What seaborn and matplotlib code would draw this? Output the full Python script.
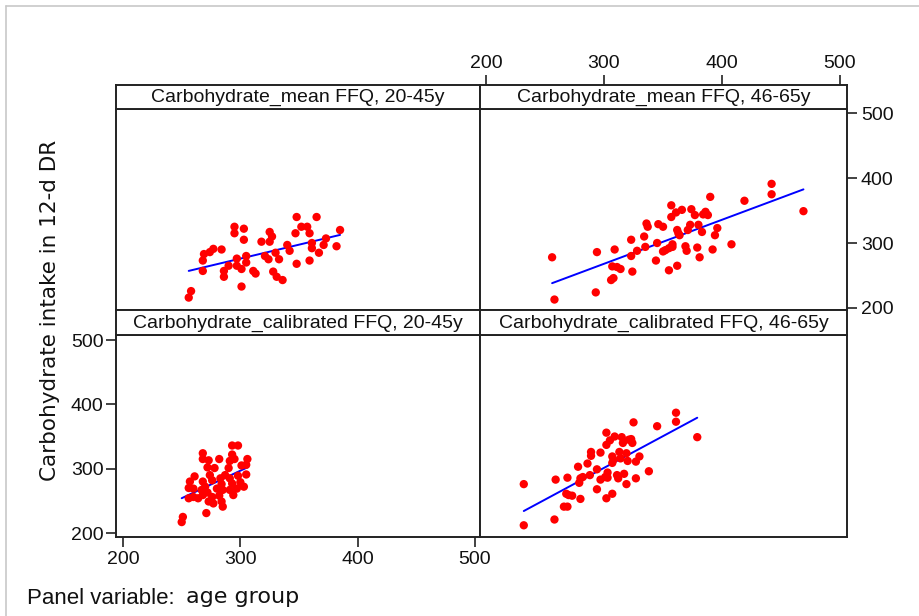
import matplotlib
matplotlib.use("Agg")
import matplotlib.pyplot as plt
import seaborn as sns
import pandas as pd
from matplotlib.lines import Line2D

# ---------------- data ----------------
tl_x = [256, 258, 268, 268, 269, 274, 277, 284, 286, 286, 290, 295, 295, 303, 303, 297, 297,
        301, 301, 305, 305, 311, 313, 318, 321, 324, 325, 325, 327, 328, 330, 331, 333, 336,
        340, 342, 348, 347, 348, 352, 357, 359, 359, 361, 361, 365, 367, 371, 373, 382, 385]
tl_y = [216, 226, 257, 273, 283, 286, 291, 290, 257, 248, 265, 325, 315, 322, 305, 276, 265,
        260, 233, 280, 270, 257, 253, 302, 280, 275, 317, 302, 310, 256, 285, 248, 275, 243,
        297, 288, 340, 315, 268, 325, 325, 315, 273, 300, 292, 340, 285, 297, 307, 295, 320]

tr_x = [256, 258, 293, 294, 306, 308, 307, 309, 311, 314, 323, 323, 324, 328, 334, 335, 336,
        337, 344, 345, 346, 350, 350, 352, 355, 355, 357, 357, 358, 358, 361, 362, 362, 363,
        364, 366, 369, 370, 371, 373, 374, 377, 379, 380, 381, 383, 384, 386, 388, 390, 392,
        394, 396, 408, 419, 442, 442, 469]
tr_y = [278, 213, 224, 286, 243, 246, 264, 290, 263, 260, 280, 305, 256, 288, 310, 294, 330,
        325, 273, 300, 329, 325, 287, 289, 292, 258, 358, 340, 298, 294, 347, 265, 320, 315,
        312, 351, 295, 288, 320, 328, 352, 343, 293, 328, 278, 317, 344, 348, 343, 371, 290,
        312, 323, 298, 365, 391, 375, 349]

bl_x = [251, 250, 271, 293, 298, 268, 268, 273, 282, 278, 272, 293, 291, 295, 306, 301, 290,
        261, 257, 256, 260, 268, 270, 267, 272, 276, 283, 287, 291, 284, 293, 298, 300, 297,
        303, 285, 291, 282, 264, 268, 273, 276, 277, 284, 285, 256, 260, 280, 294, 274, 305, 305]
bl_y = [225, 217, 231, 336, 336, 324, 315, 313, 315, 301, 302, 322, 312, 315, 315, 305, 301,
        288, 280, 270, 269, 280, 272, 267, 263, 282, 285, 290, 285, 276, 277, 289, 279, 269,
        272, 267, 267, 258, 254, 259, 249, 256, 246, 249, 241, 254, 256, 269, 259, 290, 306, 291]

br_x = [232, 232, 258, 259, 269, 268, 270, 273, 266, 269, 279, 280, 280, 278, 282, 286, 288,
        289, 289, 294, 294, 297, 297, 301, 302, 302, 302, 303, 303, 305, 307, 307, 307, 308,
        309, 311, 312, 313, 314, 315, 316, 317, 319, 319, 320, 321, 323, 324, 325, 327, 327,
        330, 338, 345, 361, 361, 379]
br_y = [276, 212, 221, 283, 286, 261, 259, 258, 241, 241, 278, 285, 253, 303, 287, 308, 290,
        326, 320, 268, 299, 325, 283, 287, 254, 356, 337, 294, 286, 344, 261, 319, 309, 314,
        350, 290, 285, 326, 316, 349, 340, 292, 276, 324, 312, 345, 346, 340, 372, 285, 311,
        319, 296, 366, 387, 373, 349]

titles = ["Carbohydrate_mean FFQ, 20-45y", "Carbohydrate_mean FFQ, 46-65y",
          "Carbohydrate_calibrated FFQ, 20-45y", "Carbohydrate_calibrated FFQ, 46-65y"]
ticks = [200, 300, 400, 500]
y_label = "Carbohydrate intake in 12-d DR"

# ---------------- styling ----------------
sns.set_theme(style="white")
plt.rcParams["font.family"] = ["Liberation Sans Narrow", "Liberation Sans", "DejaVu Sans"]

W, H = 919, 616
fig = plt.figure(figsize=(W / 100, H / 100), dpi=100)
fig.patch.set_facecolor("white")


def rect(l, t, r, b):
    return [l / W, 1 - b / H, (r - l) / W, (b - t) / H]


LX = (194.0, 504.3)
RX = (194.9, 505.9)
TY = (196.9, 506.2)
BY = (193.8, 507.8)

frame_c = "#222222"
frame_w = 1.4


def style_frame(ax):
    for s in ax.spines.values():
        s.set_visible(True)
        s.set_color(frame_c)
        s.set_linewidth(frame_w)
    ax.set_facecolor("white")


panels = [
    (rect(116, 109, 480, 310), tl_x, tl_y, LX, TY, titles[0], rect(116, 85, 480, 109)),
    (rect(480, 109, 847, 310), tr_x, tr_y, RX, TY, titles[1], rect(480, 85, 847, 109)),
    (rect(116, 335, 480, 537), bl_x, bl_y, LX, BY, titles[2], rect(116, 310, 480, 335)),
    (rect(480, 335, 847, 537), br_x, br_y, RX, BY, titles[3], rect(480, 310, 847, 335)),
]

axes = []
for i, (pos, xs, ys, xl, yl, title, hpos) in enumerate(panels):
    ax = fig.add_axes(pos)
    df = pd.DataFrame({"x": xs, "y": ys})
    sns.regplot(data=df, x="x", y="y", ax=ax, ci=None,
                scatter_kws=dict(s=36, color="#ff0000", edgecolor="none", alpha=1, zorder=3),
                line_kws=dict(color="#0000ff", lw=1.4, zorder=2))
    ax.set_xlim(*xl)
    ax.set_ylim(*yl)
    ax.set_xlabel("")
    ax.set_ylabel("")
    style_frame(ax)
    ax.set_xticks(ticks)
    ax.set_yticks(ticks)
    ax.tick_params(which="both", direction="out", length=7, width=1.2, color=frame_c,
                   labelsize=14, labelcolor="#111111", pad=2,
                   bottom=False, top=False, left=False, right=False,
                   labelbottom=False, labeltop=False, labelleft=False, labelright=False)
    if i == 1:
        ax.tick_params(axis="y", right=True, labelright=True, pad=3)
    if i == 2:
        ax.tick_params(axis="x", bottom=True, labelbottom=True, pad=3)
        ax.tick_params(axis="y", left=True, labelleft=True, pad=2)
    axes.append(ax)

    hax = fig.add_axes(hpos)
    style_frame(hax)
    hax.set_xlim(*xl)
    hax.set_ylim(0, 1)
    hax.set_yticks([])
    hax.set_xticks(ticks)
    hax.tick_params(which="both", direction="out", length=7, width=1.2, color=frame_c,
                    labelsize=14, labelcolor="#111111", pad=2,
                    bottom=False, top=False, left=False, right=False,
                    labelbottom=False, labeltop=False, labelleft=False, labelright=False)
    if i == 1:
        hax.tick_params(axis="x", top=True, labeltop=True)
    hax.text(0.5, 0.47, title, transform=hax.transAxes, ha="center", va="center",
             fontsize=14, color="#111111")

# y axis title
fig.text(50 / W, 1 - 310 / H, y_label, rotation=90, ha="center", va="center",
         fontsize=15.5, color="#111111", family=["DejaVu Sans"])

# footnote
fig.text(27 / W, 1 - 598 / H, "Panel variable:", ha="left", va="center",
         fontsize=16, color="#111111")
fig.text(186 / W, 1 - 597 / H, "age group", ha="left", va="center",
         fontsize=16, color="#111111", family=["DejaVu Sans"])

# light outer border (top and left)
fig.add_artist(Line2D([6 / W, 6 / W], [0, 1 - 6 / H], transform=fig.transFigure,
                      color="#c8c8c8", lw=1.2))
fig.add_artist(Line2D([6 / W, 1], [1 - 6 / H, 1 - 6 / H], transform=fig.transFigure,
                      color="#c8c8c8", lw=1.2))

fig.savefig("out.png", dpi=100, facecolor="white")
